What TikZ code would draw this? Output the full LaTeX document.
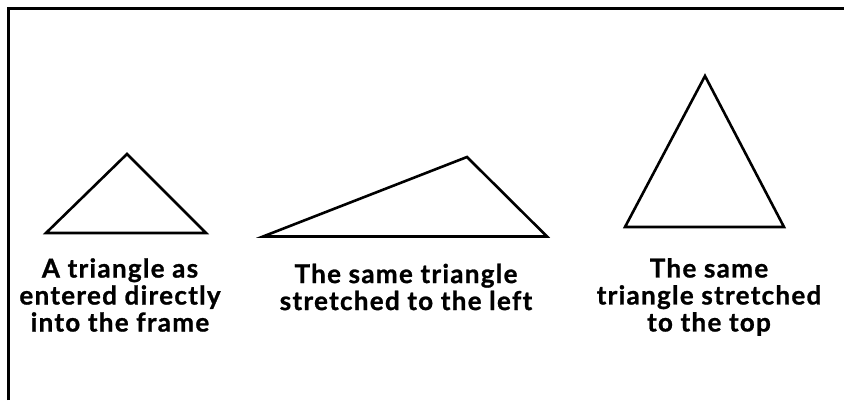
\documentclass[tikz,border=0pt]{standalone}
\usepackage{fontspec}
\setmainfont{Lato}[LetterSpace=5,Ligatures=NoCommon,BoldFeatures={FakeBold=1}]
\begin{document}
\begin{tikzpicture}[x=1pt,y=-1pt,
  tri/.style={draw=black,line width=2.6pt,line join=miter},
  frameline/.style={draw=black,line width=3pt},
  caption/.style={align=center,font=\fontsize{26}{27}\selectfont\bfseries,inner sep=0pt}]
\useasboundingbox (0,0) rectangle (844,400);
\coordinate (fb) at (8,400);
\coordinate (fc) at (8,8);
\coordinate (fr) at (844,8);
\draw[frameline] (fb) -- (fc) -- (fr);
% triangle 1
\coordinate (a1) at (46,233);
\coordinate (b1) at (127,154);
\coordinate (c1) at (206,233);
\draw[tri] (a1) -- (b1) -- (c1) -- cycle;
% triangle 2
\coordinate (a2) at (263,236.5);
\coordinate (b2) at (467,157);
\coordinate (c2) at (547,236.5);
\draw[tri] (a2) -- (b2) -- (c2) -- cycle;
% triangle 3
\coordinate (a3) at (625,227);
\coordinate (b3) at (705,76);
\coordinate (c3) at (784,227);
\draw[tri] (a3) -- (b3) -- (c3) -- cycle;
\node[caption] (t1) at (120,295) {A triangle as\\entered directly\\into the frame};
\node[caption] (t2) at (406,287) {The same triangle\\stretched to the left};
\node[caption] (t3) at (709,297) {The same\\triangle stretched\\to the top};
\end{tikzpicture}
\end{document}
